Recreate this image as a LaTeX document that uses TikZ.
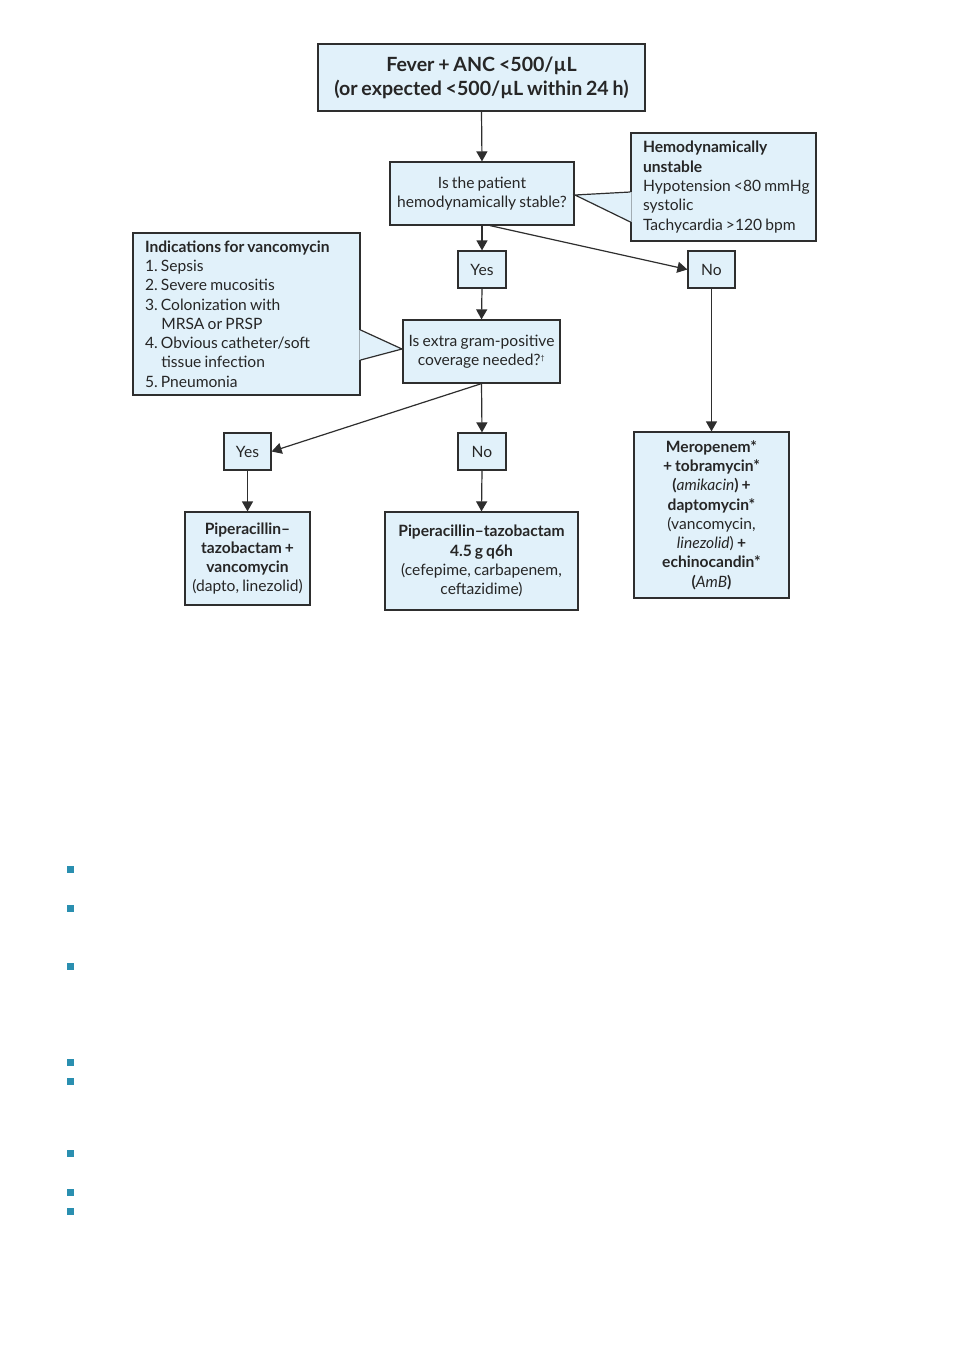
\documentclass[tikz,border=0pt]{standalone}
\usepackage{fontspec}
\setmainfont{Lato}[WordSpace=0.8]
\usetikzlibrary{arrows.meta,calc}
\definecolor{boxfill}{HTML}{E1F1FA}
\definecolor{boxline}{HTML}{2E2E2E}
\definecolor{bullet}{HTML}{2A8FB0}
\newcommand\natsp{\spaceskip=0pt\relax\xspaceskip=0pt\relax}
\tikzset{
  box/.style={draw=boxline, fill=boxfill, line width=1.2pt, rectangle, inner sep=0pt, align=center,
    text=black!85, font=\fontsize{15.6}{19.3}\selectfont},
  lbox/.style={box, align=left, execute at begin node=\natsp},
  conn/.style={draw=boxline, line width=1.2pt, -{Triangle[width=11pt,length=10pt]}},
  plain/.style={draw=boxline, line width=1.2pt},
  bsq/.style={fill=bullet, draw=none, minimum size=7pt, inner sep=0pt, rectangle}
}
\begin{document}
\begin{tikzpicture}[x=1pt,y=-1pt]
\useasboundingbox[fill=white] (0,0) rectangle (953,1350);

\node[box, minimum width=327pt, minimum height=67pt, font=\fontsize{19.6}{24}\selectfont\bfseries] (top) at (481.5,77.5)
  {Fever + ANC <500/µL\\(or expected <500/µL within 24 h)};
\node[box, minimum width=184pt, minimum height=63pt] (stable) at (482,193.5)
  {Is the patient\\hemodynamically stable?};
\node[lbox, minimum width=185pt, minimum height=108pt, text width=161pt] (unst) at (723.5,187)
  {\textbf{Hemodynamically}\\\textbf{unstable}\\\mbox{Hypotension <80 mmHg}\\systolic\\\mbox{Tachycardia >120 bpm}};
\node[box, minimum width=48pt, minimum height=37pt] (yes1) at (482,269.5) {Yes};
\node[box, minimum width=47pt, minimum height=37pt] (no1) at (711.5,269.5) {No};
\node[box, minimum width=157pt, minimum height=63pt] (extra) at (481.5,351.5)
  {Is extra gram-positive\\coverage needed?\textsuperscript{\scriptsize †}};
\node[lbox, minimum width=227pt, minimum height=162pt, text width=203pt] (ind) at (246.5,314)
  {\textbf{Indications for vancomycin}\\1.\ Sepsis\\2.\ Severe mucositis\\3.\ Colonization with\\\hspace*{1.05em}MRSA or PRSP\\4.\ Obvious catheter/soft\\\hspace*{1.05em}tissue infection\\5.\ Pneumonia};
\node[box, minimum width=47pt, minimum height=37pt] (yes2) at (247.5,451.5) {Yes};
\node[box, minimum width=48pt, minimum height=37pt] (no2) at (482,451.5) {No};
\node[box, minimum width=125pt, minimum height=93pt] (pipv) at (247.5,558.5)
  {\textbf{Piperacillin–}\\\textbf{tazobactam +}\\\textbf{vancomycin}\\(dapto, linezolid)};
\node[box, minimum width=193pt, minimum height=98pt] (pipt) at (481.5,561)
  {\textbf{Piperacillin–tazobactam}\\\textbf{4.5 g q6h}\\(cefepime, carbapenem,\\ceftazidime)};
\node[box, minimum width=155pt, minimum height=166pt] (mero) at (711.5,515)
  {\textbf{Meropenem*}\\\textbf{+ tobramycin*}\\\textbf{(}\textit{amikacin}\textbf{) +}\\\textbf{daptomycin*}\\(vancomycin,\\\textit{linezolid}) \textbf{+}\\\textbf{echinocandin*}\\\textbf{(}\textit{AmB}\textbf{)}};

% callouts
\coordinate (ua) at ($(unst.west)+(0,5)$);
\coordinate (ub) at ($(unst.west)+(0,35)$);
\coordinate (up) at (575,195);
\fill[boxfill] ($(ua)+(1.2,0)$) -- (up) -- ($(ub)+(1.2,0)$) -- cycle;
\draw[plain] (ua) -- (up) -- (ub);
\coordinate (ia) at ($(ind.east)+(0,16)$);
\coordinate (ib) at ($(ind.east)+(0,46)$);
\coordinate (ip) at (402,349);
\fill[boxfill] ($(ia)+(-1.2,0)$) -- (ip) -- ($(ib)+(-1.2,0)$) -- cycle;
\draw[plain] (ia) -- (ip) -- (ib);

% connectors
\draw[conn] (top.south) -- (stable.north);
\draw[conn] (stable.south) -- (yes1.north);
\draw[conn] ($(stable.south)+(8,0)$) -- (no1.west);
\draw[conn] (yes1.south) -- (extra.north);
\draw[conn] (no1.south) -- (mero.north);
\draw[conn] (extra.south) -- (no2.north);
\draw[conn] (extra.south) -- (yes2.east);
\draw[conn] (yes2.south) -- (pipv.north);
\draw[conn] (no2.south) -- (pipt.north);

% bullets
\foreach \yy [count=\i] in {869,908,966,1062,1081,1153,1192,1211}
  \node[bsq] (b\i) at (70,\yy) {};
\end{tikzpicture}
\end{document}
